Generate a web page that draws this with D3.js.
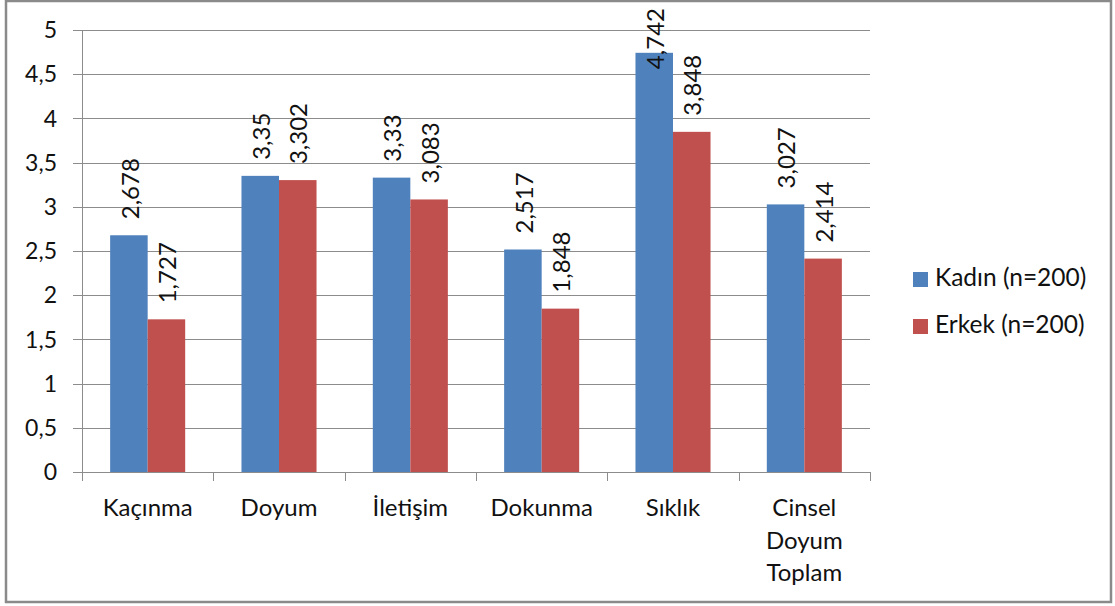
<!DOCTYPE html>
<html>
<head>
<meta charset="utf-8">
<script src="https://cdn.jsdelivr.net/npm/d3@7"></script>
<style>
    body { margin: 0; background: #fff; }
    svg text { font-family: Lato, 'Open Sans', sans-serif; fill: #111; }
</style>
</head>
<body>
<svg id="chart"></svg>
<script>
// chart data
const categories = ['Kaçınma', 'Doyum', 'İletişim', 'Dokunma', 'Sıklık', 'Cinsel Doyum Toplam'];
const seriesNames = ['Kadın (n=200)', 'Erkek (n=200)'];
const kadin = [2.678, 3.35, 3.33, 2.517, 4.742, 3.027];
const erkek = [1.727, 3.302, 3.083, 1.848, 3.848, 2.414];
const yTicks = [0, 0.5, 1, 1.5, 2, 2.5, 3, 3.5, 4, 4.5, 5];
const colors = ['#4f81bd', '#c0504d'];

const width = 1115, height = 606;
const plot = {left: 82, right: 870, top: 30, bottom: 472};

const svg = d3.select('#chart')
    .attr('width', width)
    .attr('height', height);

// outer frame
svg.append('rect')
    .attr('x', 6).attr('y', 1)
    .attr('width', 1105).attr('height', 601)
    .attr('fill', '#fff')
    .attr('stroke', '#8a8a8a')
    .attr('stroke-width', 2.5);

const comma = v => String(v).replace('.', ',');

const x = d3.scaleBand()
    .domain(categories)
    .range([plot.left, plot.right]);

// excel style gap width 150%
const xs = d3.scaleBand()
    .domain(seriesNames)
    .range([0, x.bandwidth()])
    .paddingInner(0)
    .paddingOuter(0.75);

const y = d3.scaleLinear()
    .domain([0, 5])
    .range([plot.bottom, plot.top]);

// gridlines
svg.append('g')
    .attr('class', 'grid')
    .selectAll('line')
    .data(yTicks)
    .enter()
    .append('line')
    .attr('x1', plot.left - 9)
    .attr('x2', plot.right)
    .attr('y1', d => Math.round(y(d)) + 0.5)
    .attr('y2', d => Math.round(y(d)) + 0.5)
    .attr('stroke', '#8c8c8c')
    .attr('stroke-width', 1);

// y labels
svg.append('g')
    .selectAll('text')
    .data(yTicks)
    .enter()
    .append('text')
    .attr('x', plot.left - 25)
    .attr('y', d => y(d))
    .attr('dy', '0.36em')
    .attr('text-anchor', 'end')
    .style('font-size', '23px')
    .text(d => comma(d));

// bars
const series = [kadin, erkek];
series.forEach((vals, si) => {
    svg.append('g')
        .attr('class', 'series-' + si)
        .selectAll('rect')
        .data(vals)
        .enter()
        .append('rect')
        .attr('x', (d, i) => x(categories[i]) + xs(seriesNames[si]))
        .attr('y', d => y(d))
        .attr('width', xs.bandwidth())
        .attr('height', d => y(0) - y(d))
        .attr('fill', colors[si]);
});

// y axis line
svg.append('line')
    .attr('x1', plot.left + 0.5).attr('x2', plot.left + 0.5)
    .attr('y1', plot.top).attr('y2', plot.bottom + 9)
    .attr('stroke', '#8c8c8c');

// x axis line + category ticks
svg.append('line')
    .attr('x1', plot.left).attr('x2', plot.right)
    .attr('y1', Math.round(y(0)) + 0.5).attr('y2', Math.round(y(0)) + 0.5)
    .attr('stroke', '#8c8c8c');

const bounds = categories.map(c => x(c)).concat([plot.right]);
svg.append('g')
    .selectAll('line')
    .data(bounds)
    .enter()
    .append('line')
    .attr('x1', d => Math.round(d) + 0.5)
    .attr('x2', d => Math.round(d) + 0.5)
    .attr('y1', plot.bottom)
    .attr('y2', plot.bottom + 9)
    .attr('stroke', '#8c8c8c');

// category labels (long one wraps)
const xl = svg.append('g')
    .selectAll('text')
    .data(categories)
    .enter()
    .append('text')
    .attr('text-anchor', 'middle')
    .style('font-size', '24px');

xl.each(function (d) {
    const words = d.split(' ');
    const lines = words.length > 1 ? words : [d];
    d3.select(this).selectAll('tspan')
        .data(lines)
        .enter()
        .append('tspan')
        .attr('x', x(d) + x.bandwidth() / 2)
        .attr('y', (l, i) => 516 + i * 32.5)
        .text(l => l);
});

// data labels, rotated, kept inside chart top
series.forEach((vals, si) => {
    svg.append('g')
        .selectAll('text')
        .data(vals)
        .enter()
        .append('text')
        .style('font-size', '24px')
        .attr('text-anchor', 'start')
        .text(d => comma(d))
        .attr('transform', function (d, i) {
            const cx = x(categories[i]) + xs(seriesNames[si]) + xs.bandwidth() / 2;
            const len = this.getComputedTextLength();
            let base = y(d) - 16;
            if (base - len < 8) base = 8 + len;
            return `translate(${cx + 1},${base}) rotate(-90)`;
        })
        .attr('dy', '0.36em');
});

// legend
const legend = svg.append('g').attr('class', 'legend');
seriesNames.forEach((name, i) => {
    const ly = 286 + i * 47;
    legend.append('rect')
        .attr('x', 913).attr('y', ly - 14)
        .attr('width', 15).attr('height', 15)
        .attr('fill', colors[i]);
    legend.append('text')
        .attr('x', 935).attr('y', ly)
        .style('font-size', '24.5px')
        .text(name);
});
</script>
</body>
</html>
